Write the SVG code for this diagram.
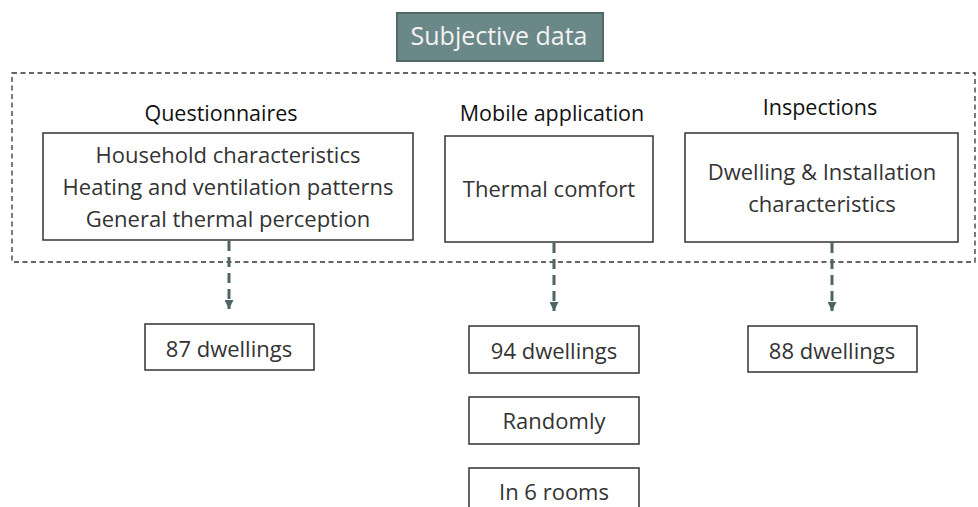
<svg xmlns="http://www.w3.org/2000/svg" width="978" height="507" viewBox="0 0 978 507">
<style>
text{font-family:"Open Sans","Liberation Sans",sans-serif;text-anchor:middle}
.box{fill:#fff;stroke:#333;stroke-width:1.5}
.t{font-size:22px;fill:#333}
.lbl{font-size:21.5px;fill:#111}
.con{stroke:#4e6567;stroke-width:3;stroke-dasharray:10 6;fill:none}
</style>
<defs>
<marker id="ah" viewBox="0 0 10 10" refX="10" refY="5" markerWidth="3" markerHeight="3" orient="auto" markerUnits="strokeWidth">
<path d="M0,0 L10,5 L0,10 z" fill="#4e6567"/>
</marker>
</defs>
<rect width="978" height="507" fill="#fff"/>
<g id="title">
<rect x="397" y="13" width="206" height="48" fill="#6b8888" stroke="#4f6868" stroke-width="2"/>
<text x="499" y="45" style="font-size:25px;fill:#f2f2f2">Subjective data</text>
</g>
<g id="container">
<rect x="12" y="73" width="963" height="189" fill="none" stroke="#333" stroke-width="1.3" stroke-dasharray="5 3.5"/>
</g>
<g id="questionnaires">
<text class="lbl" x="221" y="121">Questionnaires</text>
<rect class="box" x="43" y="133" width="370" height="107"/>
<text class="t" x="228" y="163">Household characteristics</text>
<text class="t" x="228" y="195">Heating and ventilation patterns</text>
<text class="t" x="228" y="227">General thermal perception</text>
</g>
<g id="mobile">
<text class="lbl" x="552" y="121">Mobile application</text>
<rect class="box" x="445" y="136" width="208" height="106"/>
<text class="t" x="549" y="197">Thermal comfort</text>
</g>
<g id="inspections">
<text class="lbl" x="820" y="115">Inspections</text>
<rect class="box" x="685" y="133" width="273" height="109"/>
<text class="t" x="822" y="180">Dwelling &amp; Installation</text>
<text class="t" x="822" y="212">characteristics</text>
</g>
<g id="d87">
<rect class="box" x="145" y="324" width="169" height="46"/>
<text class="t" x="229" y="357">87 dwellings</text>
</g>
<g id="d94">
<rect class="box" x="469" y="326" width="170" height="47"/>
<text class="t" x="554" y="359">94 dwellings</text>
</g>
<g id="randomly">
<rect class="box" x="469" y="397" width="170" height="47"/>
<text class="t" x="554" y="429">Randomly</text>
</g>
<g id="rooms">
<rect class="box" x="469" y="468" width="170" height="47"/>
<text class="t" x="554" y="500">In 6 rooms</text>
</g>
<g id="d88">
<rect class="box" x="748" y="326" width="169" height="46"/>
<text class="t" x="832" y="359">88 dwellings</text>
</g>
<g id="connectors">
<line class="con" x1="229" y1="241" x2="229" y2="309" marker-end="url(#ah)"/>
<line class="con" x1="554" y1="243" x2="554" y2="311" marker-end="url(#ah)"/>
<line class="con" x1="832" y1="243" x2="832" y2="311" marker-end="url(#ah)"/>
</g>
</svg>
